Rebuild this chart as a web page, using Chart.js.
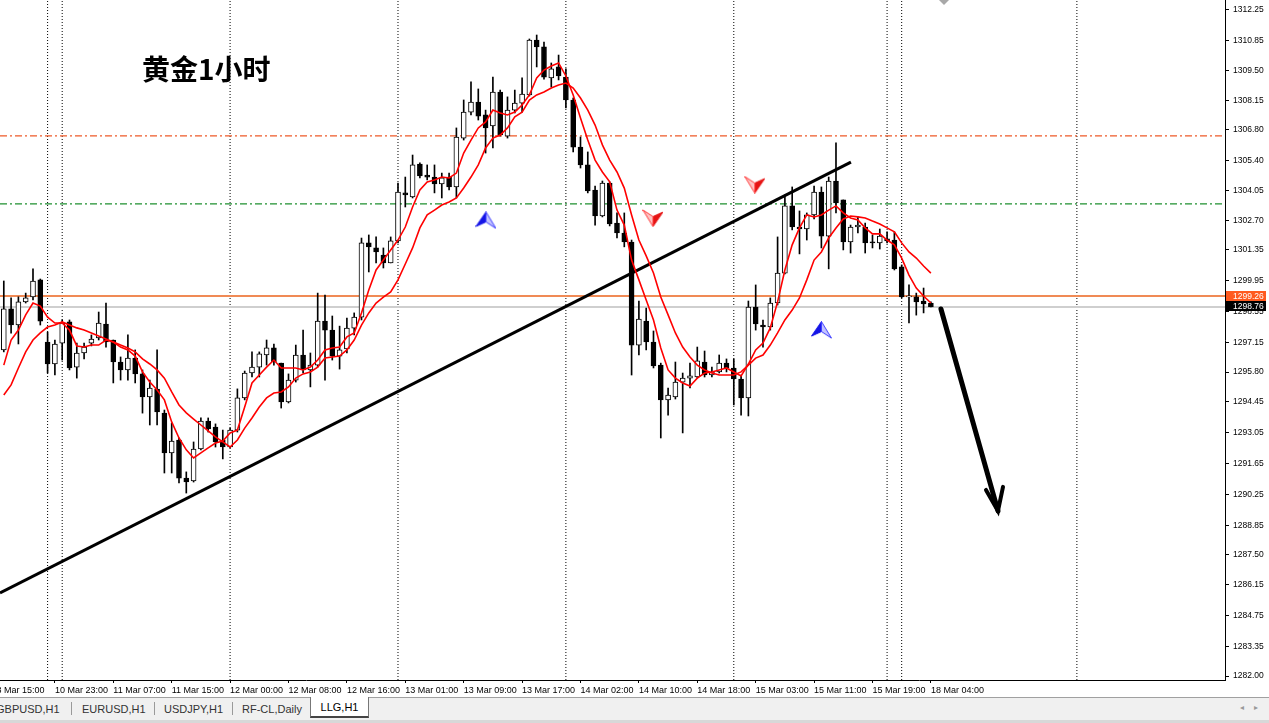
<!DOCTYPE html>
<html><head><meta charset="utf-8">
<script src="https://cdn.jsdelivr.net/npm/chart.js@4.4.1/dist/chart.umd.min.js"></script>
<style>
html,body{margin:0;padding:0;background:#fff;overflow:hidden}
#wrap{position:relative;width:1269px;height:723px;overflow:hidden}
#c{position:absolute;left:0;top:0}
#title{position:absolute;left:142px;top:52px;font-family:"Noto Sans CJK SC";font-weight:700;font-size:28px;line-height:32px;color:#000;white-space:nowrap}
#tabbar{position:absolute;left:0;top:697px;width:1269px;height:22px;background:#f0f0f0;border-top:1px solid #a0a0a0;border-bottom:3px solid #d8d8d8}
.tab{position:absolute;top:4px;font-family:"Liberation Sans",Arial,sans-serif;font-size:11px;line-height:14px;color:#333;white-space:nowrap}
.sep{position:absolute;top:4px;width:1px;height:13px;background:#9a9a9a}
.active{position:absolute;top:-1px;height:19px;width:57px;background:#fff;border:1px solid #777;border-top:none;border-bottom:2px solid #444;font-family:"Liberation Sans",Arial,sans-serif;font-size:11px;line-height:20px;color:#000;text-align:center}
.arr{position:absolute;top:5px;font-family:"DejaVu Sans";font-size:8px;color:#999}
</style>
</head><body>
<div id="wrap">
<canvas id="c" width="1269" height="723"></canvas>
<div id="title">黄金1小时</div>
<div id="tabbar">
  <div class="tab" style="left:-4px">GBPUSD,H1</div>
  <div class="sep" style="left:71px"></div>
  <div class="tab" style="left:82px">EURUSD,H1</div>
  <div class="sep" style="left:154px"></div>
  <div class="tab" style="left:164px">USDJPY,H1</div>
  <div class="sep" style="left:232px"></div>
  <div class="tab" style="left:242px">RF-CL,Daily</div>
  <div class="active" style="left:310px">LLG,H1</div>
  <div class="arr" style="left:1240px">◂</div>
  <div class="arr" style="left:1254px">▸</div>
</div>
</div>
<script>
// ---------- data ----------
const open = [1296.81,1298.67,1297.94,1298.99,1299.22,1299.99,1297.17,1296.17,1297.12,1298.08,
1296.03,1296.67,1297.12,1297.35,1297.98,1297.26,1296.26,1295.90,1296.44,1295.72,
1294.67,1295.03,1293.94,1292.13,1292.72,1290.99,1290.86,1292.31,1293.58,1293.31,
1292.72,1292.40,1293.17,1294.63,1295.76,1296.03,1296.58,1296.90,1296.21,1294.45,
1295.44,1296.58,1295.90,1296.12,1298.12,1297.71,1296.53,1296.85,1297.80,1298.30,
1301.67,1301.44,1301.12,1300.76,1301.76,1303.94,1303.76,1305.25,1304.75,1304.66,
1304.35,1304.66,1304.21,1306.43,1307.61,1308.07,1307.48,1306.98,1308.52,1306.52,
1307.70,1308.02,1308.39,1310.88,1310.57,1309.16,1309.66,1309.20,1308.16,1306.02,
1305.21,1304.07,1302.89,1304.39,1302.57,1302.12,1301.71,1297.03,1298.12,1297.17,
1296.12,1294.54,1294.67,1295.35,1295.53,1295.58,1296.26,1295.67,1295.81,1296.21,
1295.99,1295.49,1294.63,1298.76,1297.94,1297.85,1298.94,1300.30,1303.35,1302.39,
1302.30,1302.94,1303.98,1301.98,1304.48,1303.62,1301.71,1302.39,1302.39,1301.71,
1301.67,1301.85,1301.80,1300.58,1299.22,1299.22,1299.03,1298.94];
const high = [1299.94,1299.17,1299.22,1299.39,1300.49,1300.03,1297.62,1297.26,1298.17,1298.17,
1297.12,1297.12,1297.49,1298.53,1298.94,1297.26,1296.49,1297.49,1296.81,1295.90,
1295.44,1296.81,1294.08,1293.49,1292.81,1291.27,1292.63,1293.72,1293.72,1293.45,
1293.17,1293.26,1295.04,1295.85,1296.72,1296.72,1297.26,1297.08,1296.21,1295.72,
1297.03,1297.71,1296.67,1299.39,1299.30,1298.35,1297.89,1298.26,1298.49,1301.89,
1302.03,1301.94,1301.44,1301.94,1304.39,1304.66,1305.66,1305.30,1305.21,1305.21,
1304.84,1304.84,1306.89,1308.16,1308.98,1308.66,1307.70,1309.20,1308.61,1308.30,
1308.61,1309.16,1310.93,1311.11,1310.79,1309.84,1310.20,1309.57,1308.25,1306.48,
1305.80,1304.25,1304.48,1304.44,1303.03,1303.03,1301.80,1299.03,1298.71,1297.67,
1296.21,1295.08,1296.26,1295.76,1296.21,1296.94,1296.76,1296.03,1296.58,1296.40,
1296.40,1295.67,1299.03,1299.76,1298.17,1299.17,1301.94,1303.85,1304.21,1303.12,
1303.03,1304.25,1304.21,1304.66,1306.21,1303.62,1302.48,1302.85,1302.57,1302.03,
1302.30,1302.17,1302.17,1300.67,1299.76,1299.39,1299.62,1298.99];
const low = [1296.72,1297.57,1297.08,1298.94,1299.08,1297.94,1295.76,1295.67,1296.35,1295.90,
1295.53,1296.40,1296.99,1297.26,1296.94,1295.31,1295.44,1295.44,1295.31,1293.94,
1293.40,1293.40,1291.22,1291.22,1290.77,1290.31,1290.81,1292.27,1293.08,1292.40,
1291.86,1292.36,1293.08,1294.54,1295.58,1295.58,1296.12,1296.12,1294.17,1294.40,
1295.35,1295.76,1295.13,1296.03,1295.44,1296.35,1295.94,1296.67,1297.49,1298.17,
1300.35,1300.76,1300.53,1300.76,1301.67,1303.30,1303.71,1304.62,1304.53,1303.94,
1303.71,1304.07,1303.71,1306.34,1307.48,1307.25,1305.75,1305.98,1306.52,1306.43,
1307.57,1307.61,1308.34,1309.66,1309.11,1308.75,1309.07,1307.80,1305.80,1305.07,
1303.94,1302.48,1302.85,1302.44,1301.89,1301.49,1295.67,1296.58,1296.81,1295.99,
1292.81,1293.85,1294.58,1293.04,1295.08,1295.53,1295.58,1295.58,1295.76,1295.81,
1294.31,1293.85,1293.81,1297.71,1296.94,1297.71,1298.85,1300.26,1302.26,1301.17,
1301.80,1302.76,1301.44,1300.49,1303.03,1301.35,1301.21,1302.12,1301.21,1301.44,
1301.39,1301.67,1300.44,1299.17,1298.03,1298.39,1298.49,1298.76];
const close = [1298.67,1297.94,1298.99,1299.17,1299.94,1298.12,1296.17,1297.08,1298.03,1295.99,
1296.67,1296.94,1297.30,1298.03,1297.17,1296.26,1295.90,1296.44,1295.72,1294.67,
1295.08,1293.99,1292.13,1292.67,1290.99,1290.81,1292.31,1293.58,1293.22,1292.63,
1292.40,1293.17,1294.63,1295.76,1296.03,1296.63,1296.90,1296.26,1294.45,1295.44,
1296.58,1295.90,1296.12,1298.12,1297.71,1296.53,1296.81,1297.80,1298.30,1301.67,
1301.49,1301.26,1300.76,1301.76,1303.98,1303.85,1305.21,1304.71,1304.66,1304.35,
1304.62,1304.21,1306.48,1307.61,1308.07,1307.43,1306.89,1308.52,1306.57,1307.70,
1308.02,1308.43,1310.88,1310.57,1309.20,1309.57,1309.25,1308.16,1306.02,1305.21,
1304.03,1302.89,1304.39,1302.53,1302.12,1301.71,1297.03,1298.21,1297.17,1296.08,
1294.54,1294.76,1295.35,1295.53,1295.63,1296.31,1295.67,1295.81,1296.21,1295.99,
1295.49,1294.63,1298.76,1297.99,1297.85,1298.94,1300.30,1303.35,1302.39,1302.30,
1302.94,1303.98,1301.98,1304.48,1303.48,1301.71,1302.39,1302.48,1301.67,1301.67,
1301.98,1301.76,1300.49,1299.22,1299.26,1298.99,1298.90,1298.76];
const maFast = [1296.12,1297.26,1297.71,1298.40,1298.94,1298.80,1298.30,1298.03,1298.03,1297.71,
1296.99,1296.94,1297.03,1297.03,1297.26,1297.17,1296.94,1296.81,1296.53,1295.81,
1295.35,1294.99,1294.54,1293.54,1292.81,1292.27,1291.90,1292.13,1292.36,1292.58,
1292.67,1293.04,1293.17,1294.22,1295.31,1295.67,1296.03,1296.35,1295.99,1295.99,
1295.99,1295.90,1296.03,1296.35,1296.81,1296.90,1296.94,1297.40,1297.58,1298.49,
1299.53,1300.44,1300.89,1301.35,1301.80,1302.39,1303.30,1304.07,1304.44,1304.53,
1304.66,1304.62,1304.84,1305.75,1306.34,1306.89,1307.16,1307.70,1307.57,1307.48,
1307.61,1307.93,1308.39,1309.16,1309.52,1309.70,1309.84,1309.25,1308.39,1307.34,
1306.34,1305.43,1304.89,1304.44,1303.16,1302.48,1300.89,1299.99,1299.08,1298.17,
1296.90,1295.90,1295.53,1295.31,1295.17,1295.53,1295.76,1295.81,1295.90,1295.99,
1295.81,1295.63,1296.17,1296.81,1297.12,1297.81,1298.99,1300.44,1301.58,1302.35,
1302.94,1302.85,1302.94,1303.16,1303.35,1303.03,1302.80,1302.71,1302.35,1302.08,
1302.08,1301.80,1301.58,1300.98,1300.21,1299.62,1299.26,1298.94];
const maSlow = [1294.76,1295.22,1295.99,1296.72,1297.26,1297.58,1297.85,1297.94,1298.08,1297.94,
1297.81,1297.71,1297.58,1297.44,1297.31,1297.17,1297.03,1296.90,1296.72,1296.40,
1296.17,1295.90,1295.53,1294.90,1294.31,1293.95,1293.67,1293.40,1293.13,1292.86,
1292.63,1292.40,1292.72,1293.26,1293.72,1294.22,1294.63,1294.85,1294.90,1295.13,
1295.53,1295.72,1295.81,1296.03,1296.44,1296.49,1296.53,1296.81,1297.26,1297.94,
1298.49,1298.94,1299.21,1299.44,1299.99,1300.71,1301.44,1302.35,1302.94,1303.16,
1303.39,1303.53,1303.71,1304.16,1304.66,1305.21,1305.98,1306.43,1306.57,1306.89,
1307.39,1307.61,1308.16,1308.39,1308.52,1308.70,1308.84,1308.93,1308.70,1308.25,
1307.70,1307.02,1306.12,1305.43,1304.89,1304.16,1302.94,1301.80,1301.08,1300.30,
1299.21,1298.40,1297.58,1296.94,1296.49,1296.12,1295.90,1295.76,1295.67,1295.67,
1295.67,1295.81,1296.12,1296.44,1296.58,1297.03,1297.58,1298.17,1298.62,1299.17,
1299.99,1300.89,1301.26,1301.89,1302.35,1302.76,1302.89,1302.85,1302.80,1302.66,
1302.53,1302.35,1302.17,1301.67,1301.26,1300.98,1300.62,1300.30];

const yTicks = [1312.25,1310.85,1309.50,1308.15,1306.80,1305.40,1304.05,1302.70,1301.35,1299.95,1298.55,
1297.15,1295.80,1294.45,1293.05,1291.65,1290.25,1288.85,1287.50,1286.15,1284.75,1283.35,1282.00];
const xTickIdx = [-1,7,15,23,31,39,47,55,63,71,79,87,95,103,111,119,127];
const xTickLabels = ['8 Mar 15:00','10 Mar 23:00','11 Mar 07:00','11 Mar 15:00','12 Mar 00:00','12 Mar 08:00',
'12 Mar 16:00','13 Mar 01:00','13 Mar 09:00','13 Mar 17:00','14 Mar 02:00','14 Mar 10:00','14 Mar 18:00',
'15 Mar 03:00','15 Mar 11:00','15 Mar 19:00','18 Mar 04:00'];
const daySeparators = [6,8,31,54,77,100,121,123,147];
const levelOrangeDash = 1306.53, levelGreenDash = 1303.44;
const askPrice = 1299.26, bidPrice = 1298.76;
const trendPts = [[-0.52,1285.77],[116.05,1305.34]];
const arrowShaft = [[128.38,1298.67],[136.19,1289.50]];
const arrowHead = [[134.55,1290.45],[136.19,1289.50],[136.88,1290.59]];
const buySignals = [[66.05,1302.69],[112.0,1297.71]];
const sellSignals = [[88.93,1302.80],[102.88,1304.32]];
const yMin = 1281.82, yMax = 1312.70, xMin = -0.52, xMax = 167.29;

// ---------- build ----------
const FONT = "'Liberation Sans', Arial, sans-serif";
const pts = a => a.map(p => ({x:p[0], y:p[1]}));
const series = a => a.map((v,i) => ({x:i, y:v}));

function arrowImg(up){
  const c = document.createElement('canvas'); c.width = 21; c.height = 18;
  const g = c.getContext('2d');
  if(!up){ g.translate(21,18); g.rotate(Math.PI); }
  const solid = up ? '#1414e6' : '#e61414', lite = up ? '#c4c4ff' : '#ffc4c4', edge = up ? '#3a3aff' : '#ff3a3a';
  g.lineWidth = 1;
  g.beginPath(); g.moveTo(10.5,0.5); g.lineTo(0.5,15); g.lineTo(10.5,10.5); g.closePath();
  g.fillStyle = solid; g.fill(); g.strokeStyle = solid; g.stroke();
  g.beginPath(); g.moveTo(10.5,0.5); g.lineTo(10.5,10.5); g.lineTo(20.5,17); g.closePath();
  g.fillStyle = lite; g.fill(); g.strokeStyle = edge; g.stroke();
  return c;
}

const sepData = [];
daySeparators.forEach(s => { sepData.push({x:s,y:yMin},{x:s,y:yMax},{x:s,y:null}); });
const hline = v => [{x:xMin,y:v},{x:xMax,y:v}];

const lineBase = {type:'line', pointRadius:0, tension:0, fill:false, spanGaps:false};
const noPad = s => { s.paddingLeft = 0; s.paddingRight = 0; s.paddingTop = 0; s.paddingBottom = 0; };

const chrome = {
  id:'chrome',
  afterDraw(chart){
    const {ctx, chartArea:a, scales:{y}} = chart;
    ctx.save();
    ctx.fillStyle = '#a8a8a8';
    ctx.beginPath(); ctx.moveTo(939,0); ctx.lineTo(949,0); ctx.lineTo(944,5); ctx.closePath(); ctx.fill();
    const ya = y.getPixelForValue(askPrice), yb = y.getPixelForValue(bidPrice);
    const tags = [[askPrice, ya, '#ff5a1f'], [bidPrice, Math.max(yb - 1.5, ya + 10), '#000000']];
    ctx.font = "8.5px " + FONT; ctx.textBaseline = 'middle'; ctx.textAlign = 'left';
    tags.forEach(t => {
      ctx.fillStyle = t[2];
      ctx.fillRect(a.right + 1, Math.round(t[1]) - 5, 40, 10);
      ctx.fillStyle = '#fff';
      ctx.fillText(t[0].toFixed(2), a.right + 8, Math.round(t[1]) + 0.5);
    });
    ctx.restore();
  }
};

new Chart(document.getElementById('c'), {
  type:'bar',
  data:{datasets:[
    Object.assign({}, lineBase, {label:'MA fast', data:series(maFast), borderColor:'#ff0000', borderWidth:1.6, order:0}),
    Object.assign({}, lineBase, {label:'MA slow', data:series(maSlow), borderColor:'#ff0000', borderWidth:1.6, order:0}),
    Object.assign({}, lineBase, {label:'buy', data:pts(buySignals), showLine:false, pointRadius:9, pointStyle:arrowImg(true), order:0}),
    Object.assign({}, lineBase, {label:'sell', data:pts(sellSignals), showLine:false, pointRadius:9, pointStyle:arrowImg(false), order:0}),
    Object.assign({}, lineBase, {label:'arrow', data:pts(arrowShaft), borderColor:'#000', borderWidth:5, borderCapStyle:'round', order:1, clip:false}),
    Object.assign({}, lineBase, {label:'arrowhead', data:pts(arrowHead), borderColor:'#000', borderWidth:4, borderCapStyle:'round', borderJoinStyle:'miter', order:1, clip:false}),
    Object.assign({}, lineBase, {label:'trend', data:pts(trendPts), borderColor:'#000', borderWidth:3, order:1}),
    {type:'bar', label:'body', data:close.map((c,i)=>({x:i, y:[open[i], c]})),
      backgroundColor:close.map((c,i)=> c >= open[i] ? '#ffffff' : '#000000'),
      borderColor:'#000', borderWidth:1, borderSkipped:false, barThickness:5, minBarLength:1, grouped:false, order:2},
    {type:'bar', label:'wick', data:close.map((c,i)=>({x:i, y:[low[i], high[i]]})),
      backgroundColor:'#000', borderWidth:0, barThickness:1, grouped:false, order:3},
    Object.assign({}, lineBase, {label:'ask', data:hline(askPrice), borderColor:'#f08a55', borderWidth:2, order:4}),
    Object.assign({}, lineBase, {label:'bid', data:hline(bidPrice), borderColor:'#cfcfcf', borderWidth:2, order:4}),
    Object.assign({}, lineBase, {label:'lvl1', data:hline(levelOrangeDash), borderColor:'#ee5a28', borderWidth:1.2, borderDash:[7,3,2,3], order:4}),
    Object.assign({}, lineBase, {label:'lvl2', data:hline(levelGreenDash), borderColor:'#1f9030', borderWidth:1.2, borderDash:[7,3,2,3], order:4}),
    Object.assign({}, lineBase, {label:'sep', data:sepData, borderColor:'#000', borderWidth:1, borderDash:[1,2], order:5})
  ]},
  options:{
    responsive:false, animation:false, devicePixelRatio:1,
    layout:{padding:0, autoPadding:false},
    plugins:{legend:{display:false}, tooltip:{enabled:false}, title:{display:false}},
    scales:{
      x:{type:'linear', min:xMin, max:xMax, offset:false, position:'bottom',
        afterBuildTicks:s => { s.ticks = xTickIdx.map(v => ({value:v})); },
        afterFit:s => { s.height = 43; noPad(s); },
        ticks:{callback:(v,i) => xTickLabels[i], align:'start', maxRotation:0, minRotation:0, autoSkip:false,
          font:{family:FONT, size:9}, color:'#000', padding:2},
        grid:{drawOnChartArea:false, drawTicks:true, tickLength:3, color:'#000', offset:false},
        border:{display:true, color:'#000', width:1}},
      y:{type:'linear', position:'right', min:yMin, max:yMax,
        afterBuildTicks:s => { s.ticks = yTicks.map(v => ({value:v})); },
        afterFit:s => { s.width = 44; noPad(s); },
        ticks:{callback:v => Number(v).toFixed(2), autoSkip:false, font:{family:FONT, size:8.5}, color:'#000', padding:4},
        grid:{drawOnChartArea:false, drawTicks:true, tickLength:4, color:'#000'},
        border:{display:true, color:'#000', width:1}}
    }
  },
  plugins:[chrome]
});
</script>
</body></html>
